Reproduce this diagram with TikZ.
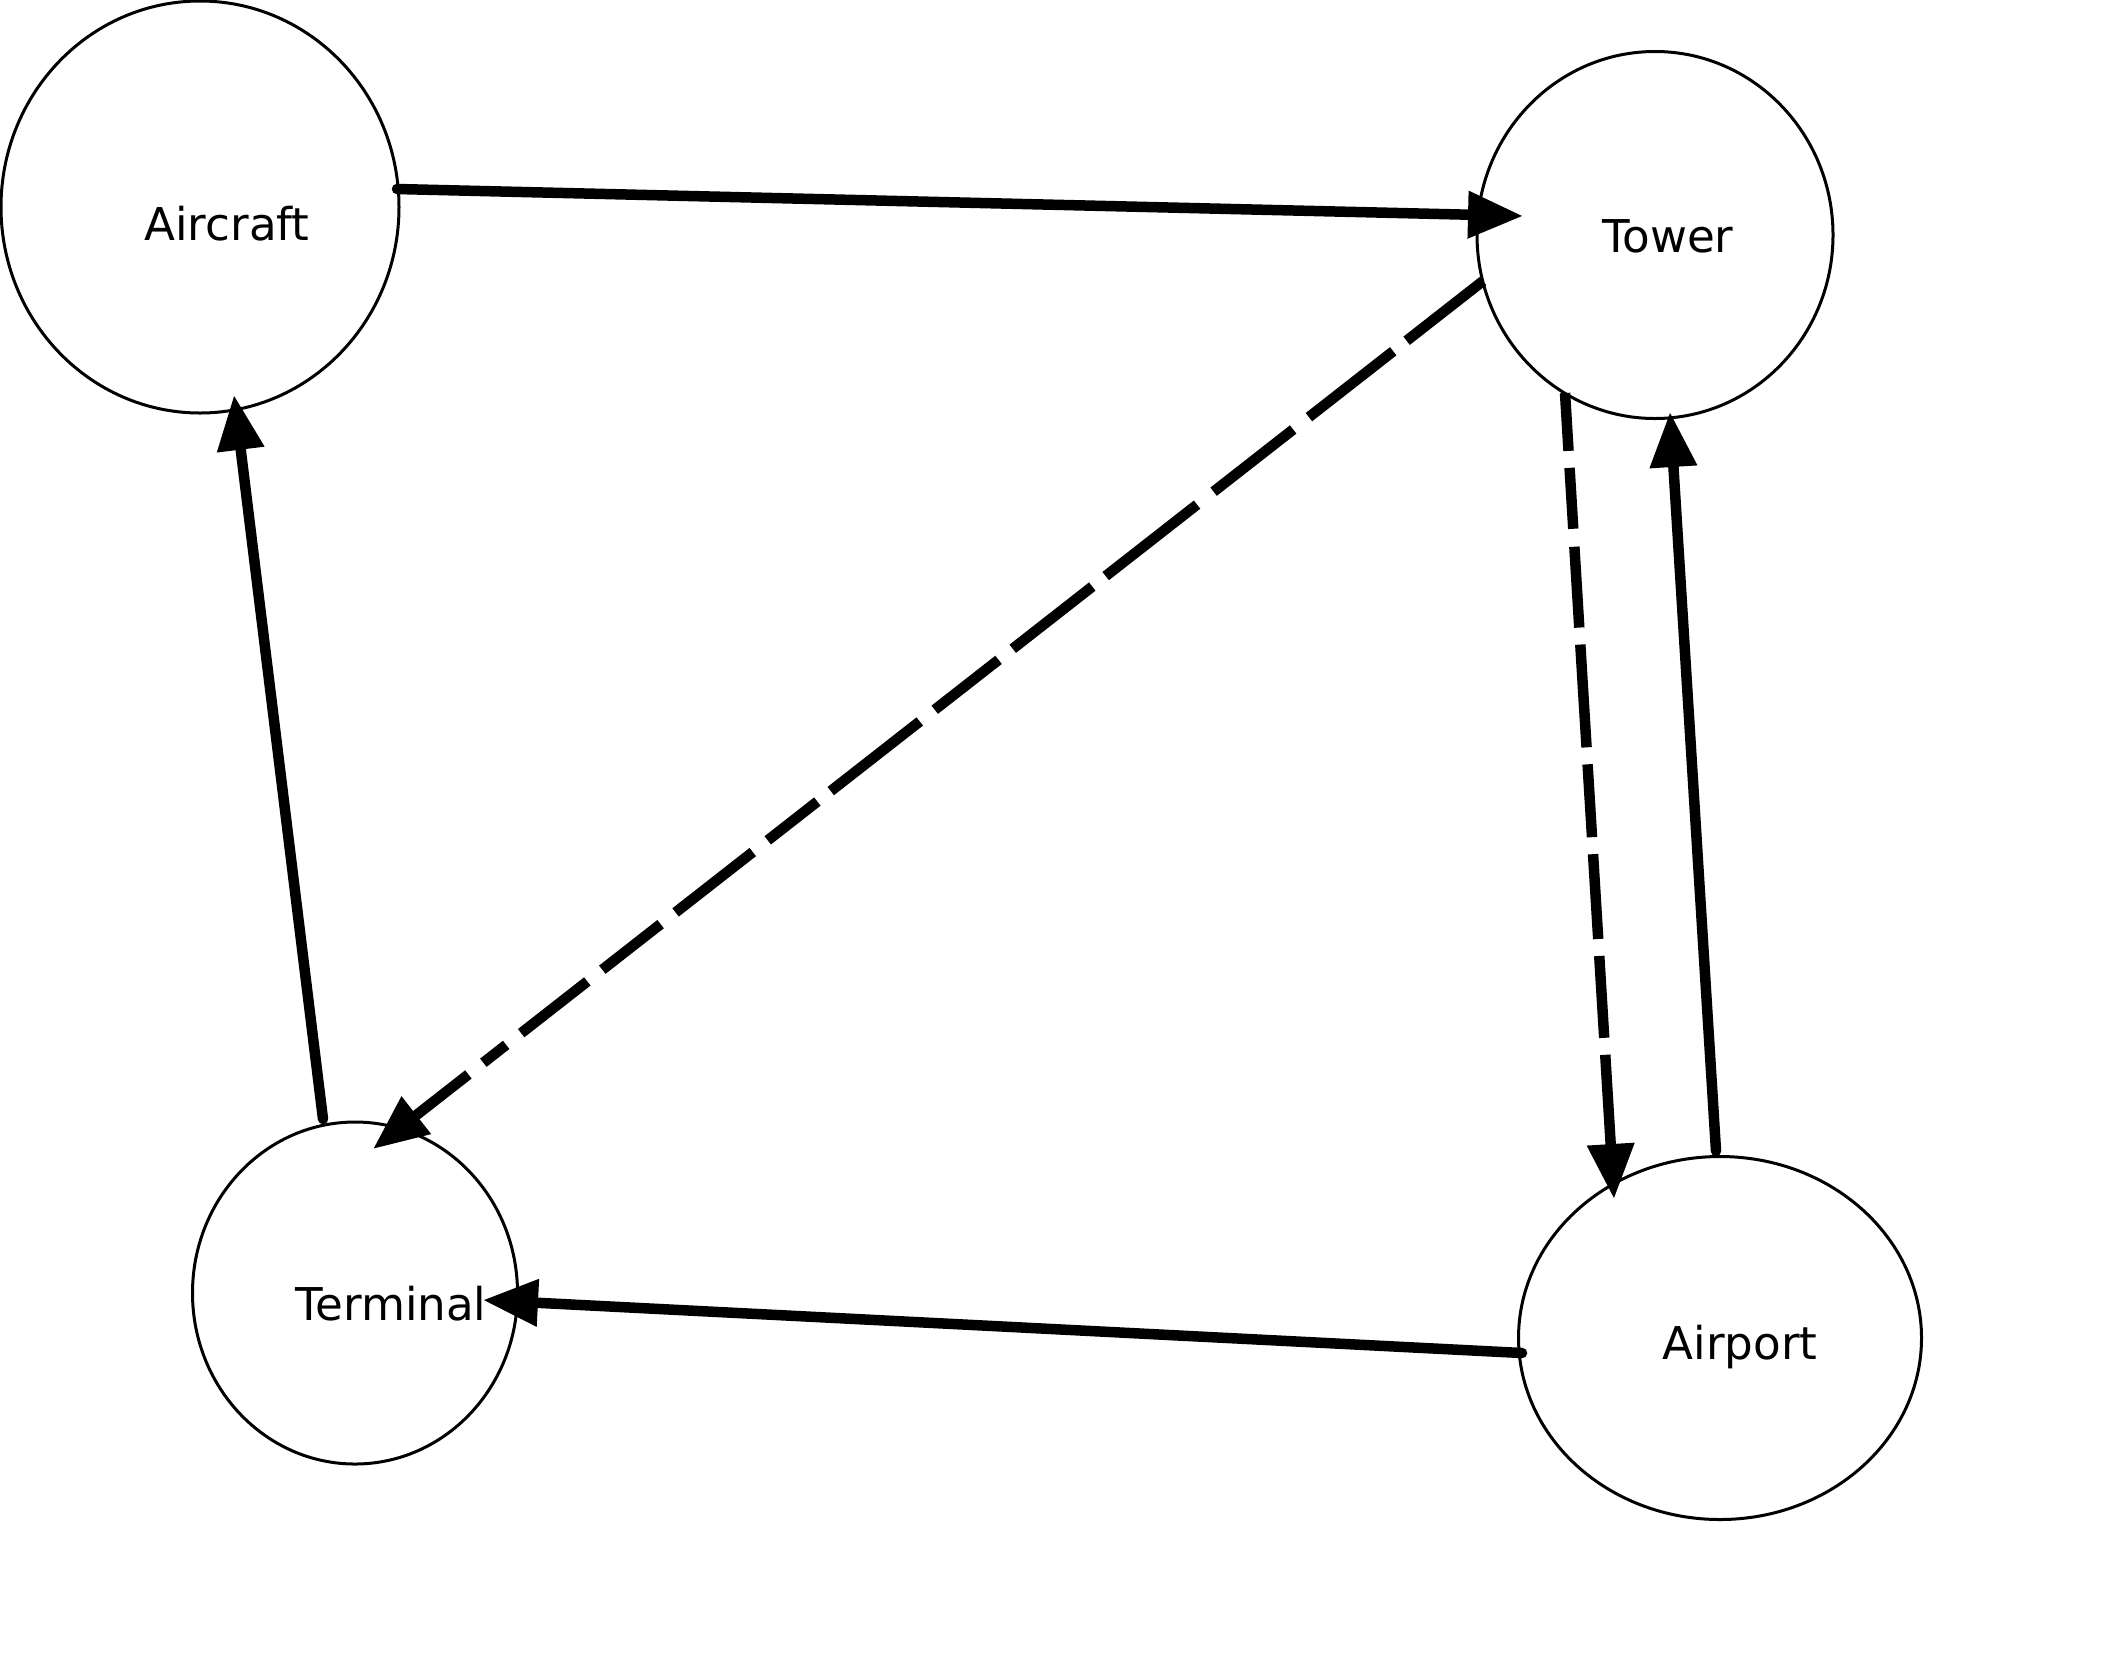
\documentclass[tikz,border=0pt]{standalone}
\usepackage{fontspec}
\setmainfont{DejaVu Sans}
\usetikzlibrary{shapes.geometric,arrows.meta,calc}
\begin{document}
\begin{tikzpicture}[x=0.5pt,y=-0.5pt,
  place/.style={draw, ellipse, line width=1.5pt, inner sep=0pt, outer sep=0pt},
  lbl/.style={anchor=base, inner sep=0pt, font=\fontsize{22.6}{27}\selectfont},
  conn/.style={line width=5.25pt, -{Triangle[length=27.5pt,width=22.5pt]}},
  solidconn/.style={conn, line cap=round},
  dashconn/.style={conn, line cap=butt},
  diagdash/.style={dash pattern=on 48.5pt off 8.5pt on 53.5pt off 10pt on 50.5pt off 10.5pt on 58pt off 8.5pt on 50.5pt off 9pt on 40.5pt off 9.5pt on 56.5pt off 8.5pt on 31.5pt off 9.5pt on 49pt off 9.5pt on 37pt off 9.5pt on 42pt off 9.5pt on 14.5pt off 9.5pt on 200pt off 0pt},
  vertdash/.style={dash pattern=on 29pt off 8.5pt on 30.5pt off 9pt on 40.5pt off 8.5pt on 51.5pt off 8.5pt on 36.5pt off 8.5pt on 42.5pt off 8.5pt on 41pt off 8.5pt on 200pt off 0pt}]
\useasboundingbox (0,0) rectangle (2112,1672);

% nodes
\node[place, minimum width=199pt, minimum height=206pt] (aircraft) at (200,207) {};
\node[place, minimum width=178pt, minimum height=183.5pt] (tower) at (1655,235) {};
\node[place, minimum width=162.5pt, minimum height=171pt] (terminal) at (355,1293) {};
\node[place, minimum width=201.5pt, minimum height=181.5pt] (airport) at (1720,1338) {};

% labels
\node[lbl] (aircraftlbl) at (227,240) {Aircraft};
\node[lbl] (towerlbl) at (1668,252) {Tower};
\node[lbl] (terminallbl) at (391,1320) {Terminal};
\node[lbl] (airportlbl) at (1740,1359) {Airport};

% connectors
\draw[solidconn] ($(aircraft)+(197,-18)$) -- ($(tower)+(-132,-19)$);
\draw[dashconn, diagdash] ($(tower)+(-172,46)$) -- ($(terminal)+(18,-144)$);
\draw[dashconn, vertdash] ($(tower)+(-90,158)$) -- ($(airport)+(-106,-139)$);
\draw[solidconn] ($(airport)+(-4,-187)$) -- ($(tower)+(15,177)$);
\draw[solidconn] ($(airport)+(-198,15)$) -- ($(terminal)+(128,7)$);
\draw[solidconn] ($(terminal)+(-32,-174)$) -- ($(aircraft)+(34,188)$);
\end{tikzpicture}
\end{document}
